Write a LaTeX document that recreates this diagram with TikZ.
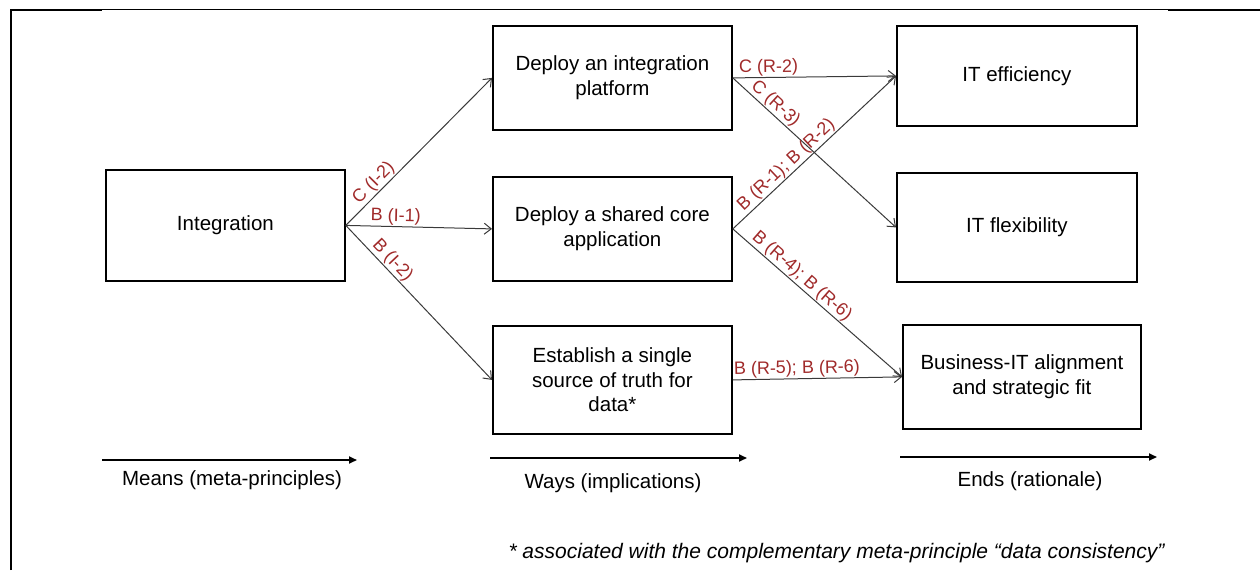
\documentclass[tikz,border=0pt]{standalone}
\usepackage{fontspec}
\setmainfont{Liberation Sans}
\usetikzlibrary{arrows.meta}
\definecolor{lbl}{HTML}{A02A2A}
\definecolor{conn}{HTML}{3A3A3A}
\tikzset{
  box/.style={draw=black, line width=1.8pt, fill=white, align=center,
    anchor=north west, inner sep=4pt,
    font=\fontsize{20.5}{24.5}\selectfont},
  link/.style={draw=conn, line width=1pt,
    -{Straight Barb[length=7pt,width=11pt,line width=1pt]}},
  tag/.style={text=lbl, font=\fontsize{18}{19}\selectfont, sloped, above,
    inner sep=1pt},
  axis/.style={line width=1.8pt, -{Triangle[length=8pt,width=7pt]}},
  axlabel/.style={font=\fontsize{20.5}{24}\selectfont, anchor=north}
}
\begin{document}
\begin{tikzpicture}[x=1pt,y=-1pt]
\useasboundingbox (0,0) rectangle (1260,570);
% frame lines along the top and left
\draw[line width=1pt] (100,9) -- (1170,9);
\draw[line width=1.6pt] (11,570) -- (11,10) -- (102,10);
\draw[line width=1.6pt] (1168,10) -- (1260,10);

% means
\node[box, minimum width=239pt, minimum height=111pt] (int) at (105,169) {Integration};
% ways
\node[box, minimum width=239pt, minimum height=104pt] (plat) at (492,25) {Deploy an integration\\platform};
\node[box, minimum width=239pt, minimum height=104pt] (core) at (492,176) {Deploy a shared core\\application};
\node[box, minimum width=239pt, minimum height=108pt] (sst) at (492,325) {Establish a single\\source of truth for\\data*};
% ends
\node[box, minimum width=240pt, minimum height=100pt] (eff) at (896,25) {IT efficiency};
\node[box, minimum width=240pt, minimum height=109pt] (flex) at (896,172) {IT flexibility};
\node[box, minimum width=238pt, minimum height=104pt] (bit) at (902,324) {Business-IT alignment\\and strategic fit};

% means -> ways
\draw[link] (int.east) -- node[tag, pos=0.24] {C (I-2)} (plat.west);
\draw[link] (int.east) -- node[tag, pos=0.34] {B (I-1)} (core.west);
\draw[link] (int.east) -- node[tag, pos=0.27] {B (I-2)} (sst.west);
% ways -> ends
\draw[link] (plat.east) -- node[tag, pos=0.22] {C (R-2)} (eff.west);
\draw[link] (plat.east) -- node[tag, pos=0.22] {C (R-3)} (flex.west);
\draw[link] (core.east) -- node[tag, pos=0.37] {B (R-1); B (R-2)} (eff.west);
\draw[link] (core.east) -- node[tag, pos=0.37] {B (R-4); B (R-6)} (bit.west);
\draw[link] (sst.east) -- node[tag, pos=0.38] {B (R-5); B (R-6)} (bit.west);

% column axes
\coordinate (m0) at (102,460); \coordinate (m1) at (357,460);
\coordinate (w0) at (490,458); \coordinate (w1) at (747,458);
\coordinate (e0) at (900,457); \coordinate (e1) at (1157,457);
\draw[axis] (m0) -- (m1);
\draw[axis] (w0) -- (w1);
\draw[axis] (e0) -- (e1);
\node[axlabel] (ml) at (232,467) {Means (meta-principles)};
\node[axlabel] (wl) at (613,470) {Ways (implications)};
\node[axlabel] (el) at (1030,468) {Ends (rationale)};

% footnote
\node[font=\fontsize{21}{24}\selectfont\itshape, anchor=east] (fn) at (1168,553)
  {* associated with the complementary meta-principle “data consistency”};
\end{tikzpicture}
\end{document}
